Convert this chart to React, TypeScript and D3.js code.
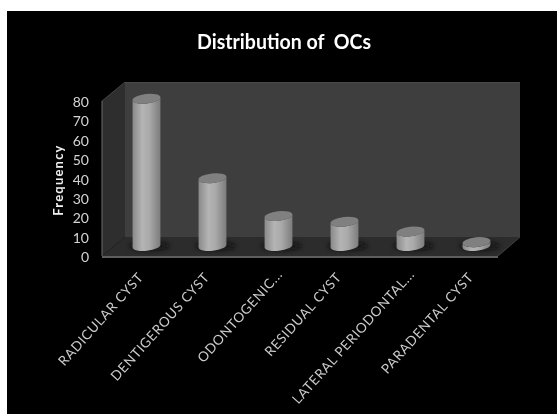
import React from "react";
import * as d3 from "d3";

const categories = ["RADICULAR CYST", "DENTIGEROUS CYST", "ODONTOGENIC...", "RESIDUAL CYST", "LATERAL PERIODONTAL...", "PARADENTAL CYST"];
const frequencies = [76, 35, 15.5, 12.5, 7.5, 2];
const yTicks = [0, 10, 20, 30, 40, 50, 60, 70, 80];

const W = 557, H = 414;
const x = d3.scalePoint<string>().domain(categories).range([146.5, 476.5]);
const yFront = d3.scaleLinear().domain([0, 80]).range([256, 101]);
const depth = { dx: 23, dy: -19 };
const baseY = 246;
const rx = 14, ry = 4.8, tilt = -6;

function cylinderPath(cx: number, top: number, bottom: number) {
  const a = (tilt * Math.PI) / 180;
  const ex = rx * Math.cos(a);
  const ey = rx * Math.sin(a);
  return `M${cx - ex},${top - ey} L${cx - ex},${bottom - ey} A${rx},${ry} ${tilt} 0 0 ${cx + ex},${bottom + ey} L${cx + ex},${top + ey} A${rx},${ry} ${tilt} 0 1 ${cx - ex},${top - ey} Z`;
}

export default function App() {
  const y0 = yFront(0), yTop = yFront(80);
  const xL = 102, xR = 498;
  const unit = (yFront(0) - yFront(80)) / 80;
  return (
    <svg width={W} height={H} style={{ position: "absolute", left: 0, top: 0 }} fontFamily="Lato, 'Open Sans', sans-serif">
      <defs>
        <linearGradient id="cyl" x1="0" x2="1" y1="0" y2="0">
          <stop offset="0" stopColor="#8a8a8a" />
          <stop offset="0.35" stopColor="#b4b4b4" />
          <stop offset="0.6" stopColor="#aaaaaa" />
          <stop offset="1" stopColor="#7c7c7c" />
        </linearGradient>
        <filter id="blur" x="-50%" y="-100%" width="200%" height="300%">
          <feGaussianBlur stdDeviation="2.5" />
        </filter>
        <filter id="soft" x="-20%" y="-20%" width="140%" height="140%">
          <feGaussianBlur stdDeviation="0.7" />
        </filter>
        <filter id="textsoft" x="-10%" y="-10%" width="120%" height="120%">
          <feGaussianBlur stdDeviation="0.3" />
        </filter>
      </defs>
      <rect x={7} y={11} width={W - 7} height={H - 11} fill="#000" />

      {/* back wall */}
      <polygon points={`${xL + depth.dx},${yTop + depth.dy} ${xR + depth.dx - 1},${yTop + depth.dy} ${xR + depth.dx - 1},${y0 + depth.dy} ${xL + depth.dx},${y0 + depth.dy}`} fill="#3e3e3e" />
      <line x1={xL + depth.dx} x2={xR + depth.dx - 1} y1={yTop + depth.dy + 0.5} y2={yTop + depth.dy + 0.5} stroke="#4a4a4a" />
      {/* side wall */}
      <polygon points={`${xL},${yTop} ${xL + depth.dx},${yTop + depth.dy} ${xL + depth.dx},${y0 + depth.dy} ${xL},${y0}`} fill="#2e2e2e" />
      <line x1={xL} y1={yTop} x2={xL + depth.dx} y2={yTop + depth.dy} stroke="#444" />
      {/* floor */}
      <polygon points={`${xL},${y0} ${xL + depth.dx},${y0 + depth.dy} ${xR + depth.dx - 1},${y0 + depth.dy} ${xR},${y0}`} fill="#2c2c2c" />
      <line x1={xL} x2={xL} y1={yTop} y2={y0} stroke="#6a6a6a" />
      <line x1={xL} x2={xR} y1={y0 + 1} y2={y0 + 1} stroke="#7e7e7e" strokeWidth={1.5} />
      <line x1={xR} y1={y0} x2={xR + depth.dx - 1} y2={y0 + depth.dy} stroke="#444" />

      {/* shadows */}
      {categories.map((c) => (
        <ellipse key={c} cx={x(c)! + 3} cy={baseY} rx={rx + 6} ry={4} fill="#101010" opacity={0.85} filter="url(#blur)" />
      ))}

      {/* cylinders */}
      {categories.map((c, i) => {
        const cx = x(c)!;
        const top = baseY - frequencies[i] * unit;
        return (
          <g key={c} filter="url(#soft)">
            <path d={cylinderPath(cx, top, baseY)} fill="url(#cyl)" />
            <ellipse cx={cx} cy={top} rx={rx} ry={ry} transform={`rotate(${tilt} ${cx} ${top})`} fill="#808080" />
          </g>
        );
      })}

      {/* y axis */}
      <g filter="url(#textsoft)">
        {yTicks.map((t) => (
          <text key={t} x={89} y={yFront(t) + 2.5} textAnchor="end" dominantBaseline="middle" fontSize={14} fill="#d4d4d4">{t}</text>
        ))}
        <text transform="translate(60,180) rotate(-90)" textAnchor="middle" dominantBaseline="middle" fontSize={13} fontWeight={700} letterSpacing={1.2} fill="#f0f0f0">Frequency</text>

        {/* category labels */}
        {categories.map((c) => (
          <text key={c} transform={`translate(${x(c)! - 10 + (c.endsWith("...") ? 7 : 0)},${c.endsWith("...") ? 268 : 271}) rotate(-48)`} textAnchor="end" fontSize={13.5} dominantBaseline="hanging" letterSpacing={0.6} fill="#cccccc">{c}</text>
        ))}

        <text x={284} y={44} textAnchor="middle" dominantBaseline="middle" fontSize={20} fontWeight={700} fill="#fff" textLength={174} lengthAdjust="spacingAndGlyphs" xmlSpace="preserve">Distribution of  OCs</text>
      </g>
    </svg>
  );
}
